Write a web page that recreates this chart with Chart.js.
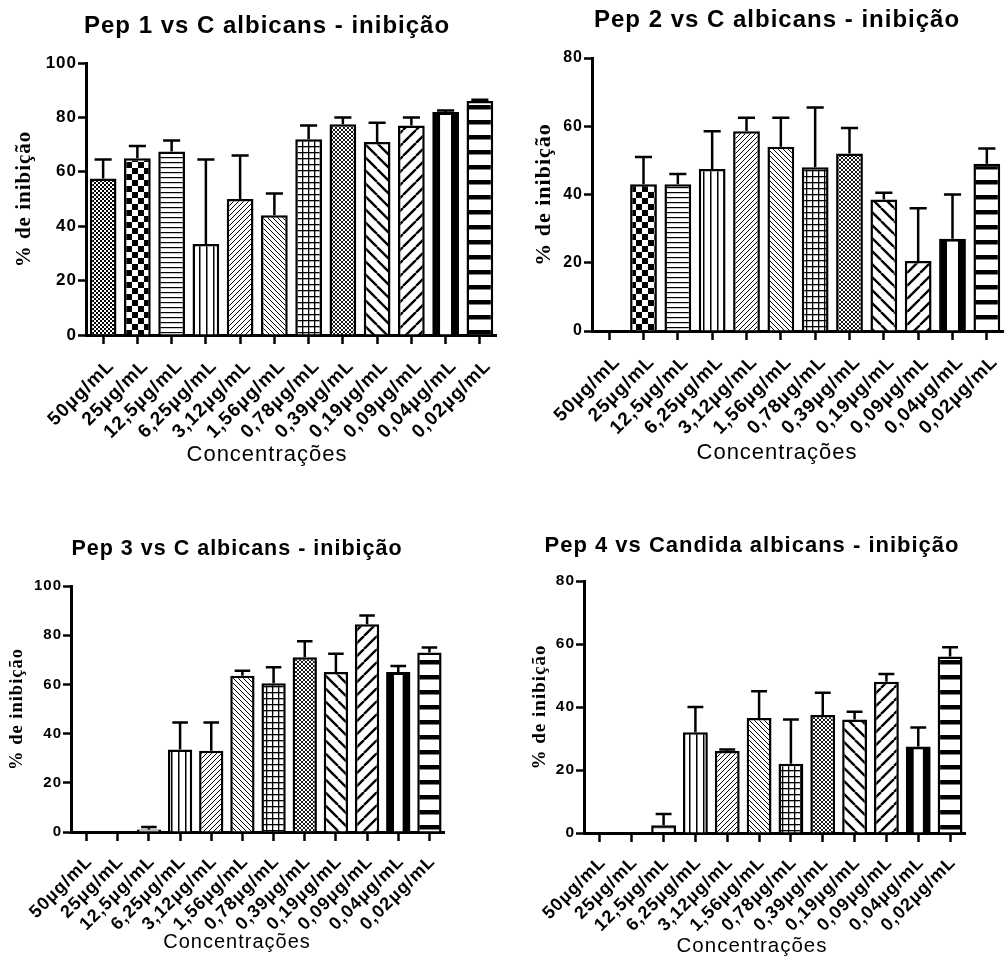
<!DOCTYPE html>
<html>
<head>
<meta charset="utf-8">
<script src="https://cdn.jsdelivr.net/npm/chart.js@4.4.1/dist/chart.umd.min.js"></script>
<style>
  body { margin: 0; background: #fff; }
  #wrap { position: relative; width: 1008px; height: 963px; overflow: hidden; }
  .panel { position: absolute; }
</style>
</head>
<body>
<div id="wrap">
  <div class="panel" style="left:0px;top:0px;width:497px;height:480px"><canvas id="pep1"></canvas></div>
  <div class="panel" style="left:504px;top:0px;width:500px;height:480px"><canvas id="pep2"></canvas></div>
  <div class="panel" style="left:0px;top:480px;width:445px;height:483px"><canvas id="pep3"></canvas></div>
  <div class="panel" style="left:504px;top:480px;width:462px;height:483px"><canvas id="pep4"></canvas></div>
</div>
<script>
// concentrations on the x axis (same for the four graphs)
const concentracoes = ["50µg/mL", "25µg/mL", "12,5µg/mL", "6,25µg/mL", "3,12µg/mL", "1,56µg/mL",
                       "0,78µg/mL", "0,39µg/mL", "0,19µg/mL", "0,09µg/mL", "0,04µg/mL", "0,02µg/mL"];

// % inhibition (mean) and the upper error (SD)
const pep1Mean = [57.5, 65, 67.5, 33.5, 50, 44, 72, 77.5, 71, 77, 82, 86];
const pep1Sd   = [7, 4.5, 4, 31, 16, 8, 5, 2.5, 7, 3, 0.5, 0.5];

const pep2Mean = [0, 43, 43, 47.5, 58.5, 54, 48, 52, 38.5, 20.5, 27, 49];
const pep2Sd   = [0, 8, 3, 11, 4, 8.5, 17.5, 7.5, 2, 15.5, 13, 4.5];

const pep3Mean = [0, 0, 1, 33.5, 33, 63.5, 60.5, 71, 65, 84.5, 65, 73];
const pep3Sd   = [0, 0, 1, 11, 11.5, 2, 6.5, 6.5, 7.5, 3.5, 2.5, 2];

const pep4Mean = [0, 0, 2.5, 32, 26, 36.5, 22, 37.5, 36, 48, 27.5, 56];
const pep4Sd   = [0, 0, 3.5, 8, 0.5, 8.5, 14, 7, 2.5, 2.5, 6, 3];

const yTicksMax = [100, 80, 100, 80];

Chart.defaults.font.family = "'Liberation Sans', Arial, sans-serif";
Chart.defaults.color = "#000";

// hatch fills, one per concentration (black & white like the original)
function makePattern(kind) {
    const c = document.createElement("canvas");
    const g = c.getContext("2d");
    const sizes = { fineChecker: 4, checker: 12, hThin: 5, vLines: 7, diagFine: 5, diagFineBack: 5,
                    grid: 6, crossFine: 4, diagThickBack: 13, diagThick: 13, plain: 4, hThick: 15 };
    const s = sizes[kind];
    c.width = s; c.height = s;
    g.fillStyle = "#fff";
    g.fillRect(0, 0, s, s);
    g.fillStyle = "#000";
    g.strokeStyle = "#000";
    const diag = (w, back) => {
        g.lineWidth = w;
        g.beginPath();
        for (let k = -1; k <= 1; k++) {
            if (back) { g.moveTo(k * s, 0); g.lineTo(k * s + s, s); }
            else { g.moveTo(k * s, s); g.lineTo(k * s + s, 0); }
        }
        g.stroke();
    };
    switch (kind) {
        case "fineChecker": g.fillRect(0, 0, 2, 2); g.fillRect(2, 2, 2, 2); break;
        case "checker": g.fillRect(0, 0, 6, 6); g.fillRect(6, 6, 6, 6); break;
        case "hThin": g.fillRect(0, 2, s, 1.2); break;
        case "vLines": g.fillRect(3, 0, 1.5, s); break;
        case "diagFine": diag(1, false); break;
        case "diagFineBack": diag(1, true); break;
        case "grid": g.fillRect(0, 2, s, 1.3); g.fillRect(2, 0, 1.3, s); break;
        case "crossFine": diag(0.9, false); diag(0.9, true); break;
        case "diagThickBack": diag(2.4, true); break;
        case "diagThick": diag(2.4, false); break;
        case "hThick": g.fillRect(0, 0, s, 4.5); break;
    }
    return g.createPattern(c, "repeat");
}

const fillKinds = ["fineChecker", "checker", "hThin", "vLines", "diagFine", "diagFineBack",
                   "grid", "crossFine", "diagThickBack", "diagThick", "plain", "hThick"];
const fills = fillKinds.map(makePattern);

// GraphPad text is spaced out a little; canvas letterSpacing gets close to it
const spacedText = {
    id: "spacedText",
    beforeLayout(chart) { chart.ctx.letterSpacing = "1px"; },
    beforeDraw(chart) { chart.ctx.letterSpacing = "1px"; }
};

// SD bars drawn above each column (upper half only, like GraphPad)
const errorBars = {
    id: "errorBars",
    afterDatasetsDraw(chart, args, opts) {
        const ctx = chart.ctx;
        const yScale = chart.scales.y;
        const mean = chart.data.datasets[0].data;
        const meta = chart.getDatasetMeta(0);
        ctx.save();
        ctx.strokeStyle = "#000";
        ctx.lineWidth = 2.5;
        meta.data.forEach((bar, i) => {
            if (!opts.sd[i]) return;
            const top = yScale.getPixelForValue(mean[i] + opts.sd[i]);
            const half = bar.width * 0.32;
            ctx.beginPath();
            ctx.moveTo(bar.x, bar.y);
            ctx.lineTo(bar.x, top);
            ctx.moveTo(bar.x - half, top);
            ctx.lineTo(bar.x + half, top);
            ctx.stroke();
        });
        ctx.restore();
    }
};

function makeChart(id, title, mean, sd, yMax, lay) {
    return new Chart(document.getElementById(id), {
        type: "bar",
        data: {
            labels: concentracoes,
            datasets: [{
                data: mean,
                backgroundColor: fills,
                borderColor: "#000",
                borderWidth: (c) => c.dataIndex === 10 ? { top: 3, left: 8, right: 8, bottom: 0 } : 2.5,
                barPercentage: 0.78,
                categoryPercentage: 1
            }]
        },
        options: {
            responsive: true,
            maintainAspectRatio: false,
            animation: false,
            layout: { padding: { left: lay.padLeft, right: 0, top: 0, bottom: 0 } },
            scales: {
                x: {
                    offset: true,
                    grid: { offset: false, drawOnChartArea: false, drawTicks: true, tickLength: 9, tickWidth: 2.5, tickColor: "#000" },
                    border: { display: true, color: "#000", width: 3 },
                    ticks: { autoSkip: false, minRotation: 45, maxRotation: 45,
                             padding: lay.xTickPad, labelOffset: lay.xTickShift,
                             font: { size: lay.xTickSize, weight: "bold" }, color: "#000" },
                    afterFit(scale) {
                        scale.height = lay.xHeight;
                        scale.paddingLeft = 0;
                        scale.paddingRight = 0;
                    }
                },
                y: {
                    min: 0,
                    max: yMax,
                    grid: { drawOnChartArea: false, drawTicks: true, tickLength: 8, tickWidth: 2.5, tickColor: "#000" },
                    border: { display: true, color: "#000", width: 3 },
                    ticks: { stepSize: 20, padding: 1, font: { size: lay.yTickSize, weight: "bold" }, color: "#000" },
                    title: {
                        display: true,
                        text: "% de inibição",
                        font: { family: "'Liberation Serif', 'Times New Roman', serif", size: lay.yTitleSize, weight: "bold" },
                        color: "#000",
                        padding: { top: lay.yTitlePad, bottom: 0 }
                    },
                    afterFit(scale) { scale.width = lay.yWidth; }
                }
            },
            plugins: {
                legend: { display: false },
                tooltip: { enabled: false },
                title: {
                    display: true,
                    text: title,
                    color: "#000",
                    font: { size: lay.titleSize, weight: "bold" },
                    padding: { top: lay.titleTop, bottom: lay.titleBottom }
                },
                subtitle: {
                    display: true,
                    position: "bottom",
                    text: "Concentrações",
                    color: "#000",
                    font: { size: lay.xTitleSize, weight: "normal" },
                    padding: { top: 0, bottom: lay.subBottom }
                },
                errorBars: { sd: sd }
            }
        },
        plugins: [spacedText, errorBars]
    });
}

makeChart("pep1", "Pep 1 vs C albicans - inibição", pep1Mean, pep1Sd, yTicksMax[0],
    { padLeft: 37, yWidth: 49, yTitleSize: 21, yTitlePad: -24.6, yTickSize: 17,
      titleSize: 24, titleTop: 11.6, titleBottom: 22.6,
      xTitleSize: 22, subBottom: 11.8, xHeight: 106.8, xTickSize: 19, xTickPad: 11, xTickShift: 8 });
makeChart("pep2", "Pep 2 vs C albicans - inibição", pep2Mean, pep2Sd, yTicksMax[1],
    { padLeft: 46, yWidth: 42, yTitleSize: 22, yTitlePad: -19.2, yTickSize: 16,
      titleSize: 24, titleTop: 5.6, titleBottom: 23.6,
      xTitleSize: 22, subBottom: 13.8, xHeight: 108.8, xTickSize: 19, xTickPad: 11, xTickShift: 8 });
makeChart("pep3", "Pep 3 vs C albicans - inibição", pep3Mean, pep3Sd, yTicksMax[2],
    { padLeft: 29, yWidth: 42, yTitleSize: 18.5, yTitlePad: -23.1, yTickSize: 15,
      titleSize: 21.5, titleTop: 56.1, titleBottom: 24.1,
      xTitleSize: 20, subBottom: 9, xHeight: 98, xTickSize: 18, xTickPad: 10, xTickShift: 3 });
makeChart("pep4", "Pep 4 vs Candida albicans - inibição", pep4Mean, pep4Sd, yTicksMax[3],
    { padLeft: 34, yWidth: 46, yTitleSize: 19, yTitlePad: -9.4, yTickSize: 15.5,
      titleSize: 22, titleTop: 52.8, titleBottom: 21.8,
      xTitleSize: 20.5, subBottom: 4.7, xHeight: 100.7, xTickSize: 18, xTickPad: 10, xTickShift: 3 });
</script>
</body>
</html>
